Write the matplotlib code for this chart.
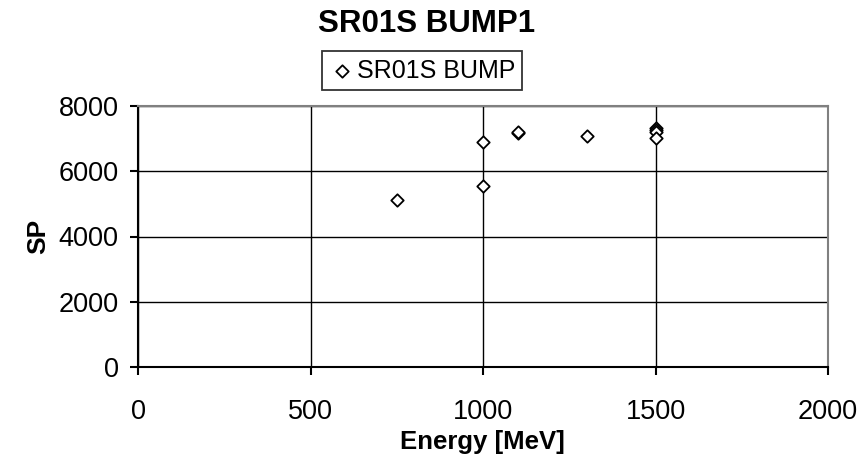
import matplotlib
matplotlib.use("Agg")
import matplotlib.pyplot as plt

plt.rcParams['font.family'] = ['Liberation Sans', 'DejaVu Sans']

energy = [750, 1000, 1000, 1100, 1100, 1300, 1500, 1500, 1500, 1500]
sp = [5120, 6900, 5550, 7180, 7210, 7090, 7340, 7260, 7200, 7030]

title = "SR01S BUMP1"
series_name = "SR01S BUMP"
xlabel = "Energy [MeV]"
ylabel = "SP"
xticks = [0, 500, 1000, 1500, 2000]
yticks = [0, 2000, 4000, 6000, 8000]

W, H = 867, 466
fig = plt.figure(figsize=(W/100, H/100), dpi=100)
ax = fig.add_axes([138/W, 1-367/H, (828-138)/W, (367-106)/H])

ax.scatter(energy, sp, marker='D', s=40, facecolors='white', edgecolors='black',
           linewidths=1.3, zorder=3, label=series_name, clip_on=False)

ax.set_xlim(0, 2000)
ax.set_ylim(0, 8000)
ax.set_xticks(xticks)
ax.set_yticks(yticks)
ax.grid(True, color='black', linewidth=1.0)
ax.set_axisbelow(True)
for side in ['top', 'right']:
    ax.spines[side].set_color('#808080')
    ax.spines[side].set_linewidth(1.5)
for side in ['left', 'bottom']:
    ax.spines[side].set_color('black')
    ax.spines[side].set_linewidth(1.5)
ax.tick_params(axis='both', direction='out', length=6, width=1.5, labelsize=19.5)
ax.tick_params(axis='y', pad=8)
ax.tick_params(axis='x', pad=17)

fig.text(482/W, 1-442/H, xlabel, ha='center', va='center', fontsize=18.5, fontweight='bold')
fig.text(38/W, 1-236/H, ylabel, ha='center', va='center', fontsize=19, fontweight='bold',
         rotation=90)
fig.text(427/W, 1-24/H, title, ha='center', va='center', fontsize=22.5, fontweight='bold')

leg = fig.legend(loc='center', bbox_to_anchor=(422/W, 1-70.5/H), frameon=True,
                 fontsize=18, handletextpad=0.1, borderpad=0.3, handlelength=1.0,
                 borderaxespad=0, fancybox=False, edgecolor='black', scatterpoints=1)
leg.get_frame().set_linewidth(1.3)

fig.savefig("out.png", dpi=100)
